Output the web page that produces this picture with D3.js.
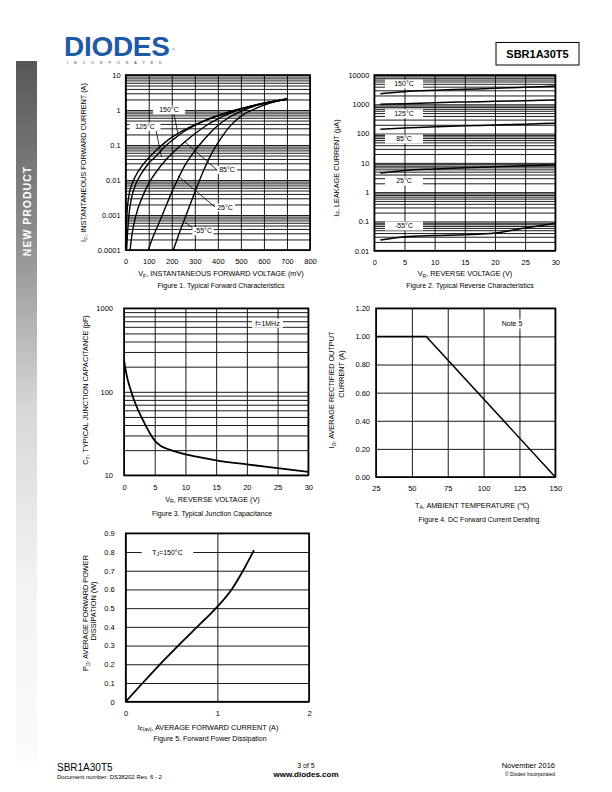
<!DOCTYPE html>
<html><head><meta charset="utf-8">
<script src="https://cdn.jsdelivr.net/npm/d3@7"></script>
<style>body{margin:0;background:#fff} text{font-family:"Liberation Sans",Arial,sans-serif;fill:#000}</style>
</head><body><svg id="page" width="612" height="792" xmlns="http://www.w3.org/2000/svg"></svg>
<script>
// ---------- DATA ----------
// Figure 1: forward characteristics (mV, A)
const fig1Labels = ["150°C","125°C","85°C","25°C","-55°C"];
const fig1_150 = [[0.5,1e-4],[2,3e-4],[5,1e-3],[12,3e-3],[25,7e-3],[40,0.012],[70,0.025],[110,0.05],[150,0.09],[190,0.15],[230,0.22],[290,0.35],[350,0.52],[420,0.75],[480,0.98],[550,1.3],[620,1.65],[700,2.0]];
const fig1_125 = [[4,1e-4],[8,3e-4],[14,1e-3],[25,3e-3],[45,8e-3],[70,0.016],[100,0.03],[134,0.05],[170,0.09],[210,0.15],[260,0.26],[320,0.42],[380,0.62],[440,0.85],[500,1.1],[570,1.42],[640,1.75],[700,2.03]];
const fig1_85 = [[19,1e-4],[28,3e-4],[45,1e-3],[70,3e-3],[100,8e-3],[135,0.018],[170,0.035],[210,0.065],[257,0.124],[300,0.21],[350,0.36],[400,0.56],[450,0.8],[500,1.05],[560,1.38],[630,1.72],[700,2.05]];
const fig1_25 = [[98,1e-4],[120,2.5e-4],[145,6e-4],[170,1.5e-3],[200,4.5e-3],[228,0.011],[255,0.025],[285,0.05],[320,0.1],[360,0.2],[400,0.36],[450,0.62],[500,0.92],[560,1.3],[630,1.7],[700,2.07]];
const fig1_m55 = [[207,1e-4],[225,2.2e-4],[245,5e-4],[265,1.1e-3],[290,3e-3],[315,8e-3],[340,0.02],[365,0.045],[390,0.09],[420,0.18],[450,0.33],[480,0.52],[520,0.8],[570,1.15],[630,1.6],[700,2.1]];
const fig1XTicks = [0,100,200,300,400,500,600,700,800];
const fig1YTicks = [1e-4,1e-3,1e-2,0.1,1,10];
const fig1YTickLabels = ["0.0001","0.001","0.01","0.1","1","10"];

// Figure 2: reverse characteristics (V, uA)
const fig2Volts = [1,5,10,15,20,25,30];
const fig2_150 = [2300,2700,3000,3250,3500,3850,4200];
const fig2_125 = [1000,1050,1130,1200,1260,1330,1400];
const fig2_85 = [140,155,170,185,195,210,225];
const fig2_25 = [4.5,5.5,6.2,6.8,7.3,7.9,8.5];
const fig2_m55 = [0.023,0.030,0.033,0.035,0.040,0.060,0.086];
const fig2Labels = ["150°C","125°C","85°C","25°C","-55°C"];
const fig2YTicks = [0.01,0.1,1,10,100,1000,10000];
const fig2YTickLabels = ["0.01","0.1","1","10","100","1000","10000"];
const fig2XTicks = [0,5,10,15,20,25,30];

// Figure 3: junction capacitance (V, pF)
const fig3Volts = [0,0.5,1,1.5,2,3,4,5,6,7,8,10,12,15,20,25,30];
const fig3Cap = [240,150,110,85,68,47,34,26,22.5,20.8,19.6,17.8,16.6,15.1,13.5,12.2,11];
const fig3YTicks = [10,100,1000];
const fig3XTicks = [0,5,10,15,20,25,30];

// Figure 4: derating (degC, A)
const fig4Temp = [25,60,150];
const fig4Current = [1.0,1.0,0.0];
const fig4XTicks = [25,50,75,100,125,150];
const fig4YTicks = [0,0.2,0.4,0.6,0.8,1.0,1.2];

// Figure 5: power dissipation (A, W)
const fig5Current = [0,0.185,0.374,0.574,0.781,0.985,1.156,1.28,1.4];
const fig5Power = [0,0.1,0.2,0.3,0.4,0.5,0.6,0.7,0.81];
const fig5XTicks = [0,1,2];
const fig5XTickLabels = ["0","1","2"];
const fig5YTicks = [0,0.1,0.2,0.3,0.4,0.5,0.6,0.7,0.8,0.9];

// ---------- PAGE ----------
const svg = d3.select("#page");
const FONT = '"Liberation Sans",Arial,sans-serif';
const defs = svg.append("defs");
const grad = defs.append("linearGradient").attr("id","sidebar").attr("x1",0).attr("y1",0).attr("x2",0).attr("y2",1);
grad.append("stop").attr("offset","0%").attr("stop-color","#575757");
grad.append("stop").attr("offset","25%").attr("stop-color","#8e8e8e");
grad.append("stop").attr("offset","50%").attr("stop-color","#d8d8d8");
grad.append("stop").attr("offset","75%").attr("stop-color","#f3f3f3");
grad.append("stop").attr("offset","100%").attr("stop-color","#fbfbfb");
svg.append("rect").attr("x",16).attr("y",61).attr("width",21).attr("height",700).attr("fill","url(#sidebar)");
svg.append("text").attr("transform","translate(30.5,211) rotate(-90)").attr("text-anchor","middle")
  .style("font-size","10.5px").style("font-weight","bold").style("letter-spacing","1px").style("fill","#fff").text("NEW PRODUCT");

// logo
svg.append("text").attr("x",64).attr("y",56).style("font-size","28px").style("font-weight","bold")
  .style("letter-spacing","-0.3px").style("fill","#1f5aa6").text("DIODES");
svg.append("text").attr("x",67).attr("y",64).style("font-size","3.6px").style("letter-spacing","6px").style("fill","#333").text("INCORPORATED");
svg.append("text").attr("x",172).attr("y",51).style("font-size","4px").style("fill","#1f5aa6").text("®");

// part box
svg.append("rect").attr("x",496).attr("y",42.5).attr("width",83).attr("height",22.5).attr("fill","none").attr("stroke","#000").attr("stroke-width",1);
svg.append("text").attr("x",537.5).attr("y",57.5).attr("text-anchor","middle").style("font-size","11px").style("font-weight","bold").text("SBR1A30T5");

// footer
svg.append("text").attr("x",57).attr("y",771).style("font-size","10px").text("SBR1A30T5");
svg.append("text").attr("x",57).attr("y",779).style("font-size","6px").text("Document number: DS38202  Rev. 6 - 2");
svg.append("text").attr("x",306).attr("y",768).attr("text-anchor","middle").style("font-size","7px").text("3 of 5");
svg.append("text").attr("x",306).attr("y",777).attr("text-anchor","middle").style("font-size","8px").style("font-weight","bold").text("www.diodes.com");
svg.append("text").attr("x",555).attr("y",768).attr("text-anchor","end").style("font-size","7.5px").text("November 2016");
svg.append("text").attr("x",555).attr("y",776).attr("text-anchor","end").style("font-size","5px").text("© Diodes Incorporated");

// ---------- helpers ----------
function styleAxisText(g, size){ g.selectAll("text").style("font-size",size||"7.5px").style("font-family",FONT).attr("fill","#000"); g.select(".domain").remove(); }
function grid(g, x, y, L, T, R, B, xv, yv, sw){
  g.append("g").attr("transform",`translate(0,${B})`).call(d3.axisBottom(x).tickValues(xv).tickSize(-(B-T)).tickFormat(""))
    .call(a=>{a.select(".domain").remove(); a.selectAll("line").attr("stroke","#000").attr("stroke-width",sw||0.9);});
  g.append("g").attr("transform",`translate(${L},0)`).call(d3.axisLeft(y).tickValues(yv).tickSize(-(R-L)).tickFormat(""))
    .call(a=>{a.select(".domain").remove(); a.selectAll("line").attr("stroke","#000").attr("stroke-width",sw||0.9);});
}
function frame(g,L,T,R,B){ g.append("rect").attr("x",L).attr("y",T).attr("width",R-L).attr("height",B-T).attr("fill","none").attr("stroke","#000").attr("stroke-width",1.6); }
function label(g, cx, cy, w, h, txt){
  g.append("rect").attr("x",cx-w/2).attr("y",cy-h/2).attr("width",w).attr("height",h).attr("fill","#fff");
  g.append("text").attr("x",cx).attr("y",cy+2.4).attr("text-anchor","middle").style("font-size","7px").text(txt);
}
function subText(g, x, y, parts, opts){
  const t = g.append("text").attr("x",x).attr("y",y).attr("text-anchor","middle").style("font-size",(opts&&opts.size)||"7.3px");
  if(opts && opts.rotate) t.attr("transform",`rotate(-90,${x},${y})`);
  parts.forEach(p=>{ const s=t.append("tspan").text(p[0]); if(p[1]) s.style("font-size","5px").attr("dy",1.5); else if(p[2]) s.attr("dy",-1.5); });
  return t;
}
function logMinors(lo, hi){ const v=[]; for(let d=Math.log10(lo); d<Math.log10(hi); d++){ for(let k=1;k<10;k++) v.push(k*Math.pow(10,d)); } v.push(hi); return v; }
function clip(id,L,T,R,B){ defs.append("clipPath").attr("id",id).append("rect").attr("x",L).attr("y",T).attr("width",R-L).attr("height",B-T); }

// ---------- FIGURE 1 ----------
{
  const L=125.7,R=310,T=75,B=250;
  const g=svg.append("g");
  const x=d3.scaleLinear().domain([0,800]).range([L,R]);
  const y=d3.scaleLog().domain([1e-4,10]).range([B,T]);
  grid(g,x,y,L,T,R,B,fig1XTicks,logMinors(1e-4,10),0.9);
  clip("c1",L,T,R,B);
  const line=d3.line().x(d=>x(d[0])).y(d=>y(d[1])).curve(d3.curveMonotoneX);
  [fig1_150,fig1_125,fig1_85,fig1_25,fig1_m55].forEach(s=>{
    g.append("path").attr("d",line(s)).attr("fill","none").attr("stroke","#000").attr("stroke-width",1.4).attr("clip-path","url(#c1)");
  });
  frame(g,L,T,R,B);
  const ptr=[[174,114,178,134],[156,130.5,161.5,157],[217,170,185,142],[215,207,178,176],[194,229,185,222]];
  ptr.forEach(p=>g.append("line").attr("x1",p[0]).attr("y1",p[1]).attr("x2",p[2]).attr("y2",p[3]).attr("stroke","#000").attr("stroke-width",0.8));
  label(g,169,110,32,8.5,fig1Labels[0]);
  label(g,145,126.7,31,8.5,fig1Labels[1]);
  label(g,227,170,20,8,fig1Labels[2]);
  label(g,225,207.5,20,8,fig1Labels[3]);
  label(g,203,231,21,8,fig1Labels[4]);
  g.append("g").attr("transform",`translate(0,${B})`).call(d3.axisBottom(x).tickValues(fig1XTicks).tickSize(0).tickPadding(9)).call(a=>styleAxisText(a));
  g.append("g").attr("transform",`translate(${L},0)`).call(d3.axisLeft(y).tickValues(fig1YTicks).tickSize(0).tickPadding(5).tickFormat((d,i)=>fig1YTickLabels[i])).call(a=>styleAxisText(a));
  subText(g,221,276,[["V"],["F",1],[", INSTANTANEOUS FORWARD VOLTAGE (mV)",0,1]]);
  g.append("text").attr("x",221).attr("y",288).attr("text-anchor","middle").style("font-size","7px").text("Figure 1. Typical Forward Characteristics");
  subText(g,86,162.5,[["I"],["F",1],[", INSTANTANEOUS FORWARD CURRENT (A)",0,1]],{rotate:true});
}

// ---------- FIGURE 2 ----------
{
  const L=374.3,R=555.3,T=75,B=250.7;
  const g=svg.append("g");
  const x=d3.scaleLinear().domain([0,30]).range([L,R]);
  const y=d3.scaleLog().domain([0.01,10000]).range([B,T]);
  grid(g,x,y,L,T,R,B,fig2XTicks,logMinors(0.01,10000),0.9);
  const line=d3.line().x((d,i)=>x(fig2Volts[i])).y(d=>y(d)).curve(d3.curveMonotoneX);
  [fig2_150,fig2_125,fig2_85,fig2_25,fig2_m55].forEach(s=>{
    g.append("path").attr("d",line(s)).attr("fill","none").attr("stroke","#000").attr("stroke-width",1.5);
  });
  frame(g,L,T,R,B);
  label(g,404,84,38,9,fig2Labels[0]);
  label(g,404,113.7,38,9,fig2Labels[1]);
  label(g,404,139,38,9,fig2Labels[2]);
  label(g,404,181,38,9,fig2Labels[3]);
  label(g,404,226,38,9,fig2Labels[4]);
  g.append("g").attr("transform",`translate(0,${B})`).call(d3.axisBottom(x).tickValues(fig2XTicks).tickSize(0).tickPadding(9)).call(a=>styleAxisText(a));
  g.append("g").attr("transform",`translate(${L},0)`).call(d3.axisLeft(y).tickValues(fig2YTicks).tickSize(0).tickPadding(5).tickFormat((d,i)=>fig2YTickLabels[i])).call(a=>styleAxisText(a));
  subText(g,465,276,[["V"],["R",1],[", REVERSE VOLTAGE (V)",0,1]]);
  g.append("text").attr("x",470).attr("y",288).attr("text-anchor","middle").style("font-size","7px").text("Figure 2. Typical Reverse Characteristics");
  subText(g,338.5,168,[["I"],["R",1],[", LEAKAGE CURRENT (µA)",0,1]],{rotate:true});
}

// ---------- FIGURE 3 ----------
{
  const L=124,R=308.3,T=308.3,B=475.3;
  const g=svg.append("g");
  const x=d3.scaleLinear().domain([0,30]).range([L,R]);
  const y=d3.scaleLog().domain([10,1000]).range([B,T]);
  grid(g,x,y,L,T,R,B,fig3XTicks,logMinors(10,1000),0.9);
  const line=d3.line().x((d,i)=>x(fig3Volts[i])).y(d=>y(d)).curve(d3.curveMonotoneX);
  g.append("path").attr("d",line(fig3Cap)).attr("fill","none").attr("stroke","#000").attr("stroke-width",1.8);
  frame(g,L,T,R,B);
  label(g,267.5,323.3,31,9,"f=1MHz");
  g.append("g").attr("transform",`translate(0,${B})`).call(d3.axisBottom(x).tickValues(fig3XTicks).tickSize(0).tickPadding(9)).call(a=>styleAxisText(a));
  g.append("g").attr("transform",`translate(${L},0)`).call(d3.axisLeft(y).tickValues(fig3YTicks).tickSize(0).tickPadding(11).tickFormat(d3.format("d"))).call(a=>styleAxisText(a));
  subText(g,212.5,501.5,[["V"],["R",1],[", REVERSE VOLTAGE (V)",0,1]]);
  g.append("text").attr("x",212).attr("y",516).attr("text-anchor","middle").style("font-size","7px").text("Figure 3. Typical Junction Capacitance");
  subText(g,88,390,[["C"],["T",1],[", TYPICAL JUNCTION CAPACITANCE (pF)",0,1]],{rotate:true});
}

// ---------- FIGURE 4 ----------
{
  const L=376,R=555.3,T=308.3,B=477;
  const g=svg.append("g");
  const x=d3.scaleLinear().domain([25,150]).range([L,R]);
  const y=d3.scaleLinear().domain([0,1.2]).range([B,T]);
  grid(g,x,y,L,T,R,B,fig4XTicks,fig4YTicks,0.9);
  const line=d3.line().x((d,i)=>x(fig4Temp[i])).y(d=>y(d));
  g.append("path").attr("d",line(fig4Current)).attr("fill","none").attr("stroke","#000").attr("stroke-width",1.5);
  frame(g,L,T,R,B);
  label(g,512,324,26,9,"Note 5");
  g.append("g").attr("transform",`translate(0,${B})`).call(d3.axisBottom(x).tickValues(fig4XTicks).tickSize(0).tickPadding(9)).call(a=>styleAxisText(a));
  g.append("g").attr("transform",`translate(${L},0)`).call(d3.axisLeft(y).tickValues(fig4YTicks).tickSize(0).tickPadding(6).tickFormat(d3.format(".2f"))).call(a=>styleAxisText(a));
  subText(g,472,507.5,[["T"],["A",1],[", AMBIENT TEMPERATURE (℃)",0,1]]);
  g.append("text").attr("x",479).attr("y",521.5).attr("text-anchor","middle").style("font-size","7px").text("Figure 4. DC Forward Current Derating");
  subText(g,334,390,[["I"],["O",1],[", AVERAGE RECTIFIED OUTPUT",0,1]],{rotate:true});
  subText(g,344,374,[["CURRENT (A)"]],{rotate:true});
}

// ---------- FIGURE 5 ----------
{
  const L=125.7,R=309,T=533.3,B=701.7;
  const g=svg.append("g");
  const x=d3.scaleLinear().domain([0,2]).range([L,R]);
  const y=d3.scaleLinear().domain([0,0.9]).range([B,T]);
  grid(g,x,y,L,T,R,B,fig5XTicks,fig5YTicks,0.9);
  const line=d3.line().x((d,i)=>x(fig5Current[i])).y(d=>y(d)).curve(d3.curveMonotoneX);
  g.append("path").attr("d",line(fig5Power)).attr("fill","none").attr("stroke","#000").attr("stroke-width",1.8);
  frame(g,L,T,R,B);
  const lb = g.append("g");
  lb.append("rect").attr("x",141.7).attr("y",548).attr("width",51.6).attr("height",9).attr("fill","#fff");
  subText(lb,167.5,554.7,[["T"],["J",1],["=150°C",0,1]],{size:"7px"});
  g.append("g").attr("transform",`translate(0,${B})`).call(d3.axisBottom(x).tickValues(fig5XTicks).tickSize(0).tickPadding(9).tickFormat((d,i)=>fig5XTickLabels[i])).call(a=>styleAxisText(a));
  g.append("g").attr("transform",`translate(${L},0)`).call(d3.axisLeft(y).tickValues(fig5YTicks).tickSize(0).tickPadding(11).tickFormat(d=>d===0?"0":d3.format(".1f")(d))).call(a=>styleAxisText(a));
  subText(g,208,729.5,[["I"],["F(av)",1],[", AVERAGE FORWARD CURRENT (A)",0,1]]);
  g.append("text").attr("x",210).attr("y",741).attr("text-anchor","middle").style("font-size","7px").text("Figure 5. Forward Power Dissipation");
  subText(g,88,613,[["P"],["D",1],[", AVERAGE FORWARD POWER",0,1]],{rotate:true});
  subText(g,96,611,[["DISSIPATION (W)"]],{rotate:true});
}
</script></body></html>
